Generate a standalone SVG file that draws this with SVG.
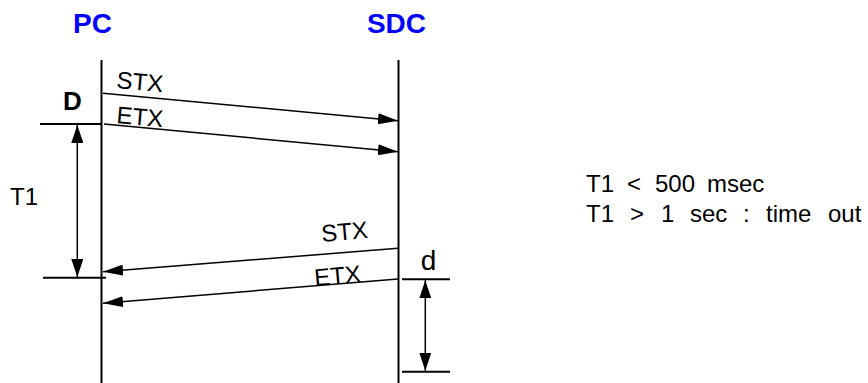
<svg xmlns="http://www.w3.org/2000/svg" width="868" height="383" viewBox="0 0 868 383">
<style>
.ln{stroke:#000;stroke-width:2;fill:none}
.th{stroke:#000;stroke-width:1.5;fill:none}
.hd{font-family:"Liberation Sans",Arial,sans-serif;font-weight:bold;font-size:28px;fill:#0000ff}
.lb{font-family:"Liberation Sans",Arial,sans-serif;font-size:24px;fill:#000}
.msg{font-family:"Liberation Sans",Arial,sans-serif;font-size:24px;fill:#000}
.txt{font-family:"Liberation Sans",Arial,sans-serif;font-size:24px;fill:#000}
</style>
<defs>
<marker id="ah" markerWidth="20" markerHeight="11" refX="20" refY="5.5" orient="auto" markerUnits="userSpaceOnUse">
<path d="M0,0 L20,5.5 L0,11 Z" fill="#000"/>
</marker>
<marker id="dh" markerWidth="18" markerHeight="12" refX="18" refY="6" orient="auto" markerUnits="userSpaceOnUse">
<path d="M0,0 L18,6 L0,12 Z" fill="#000"/>
</marker>
</defs>
<g id="pc">
<text class="hd" x="92.5" y="33" text-anchor="middle">PC</text>
<line class="ln" x1="101.5" y1="60" x2="101.5" y2="383"/>
</g>
<g id="sdc">
<text class="hd" x="396.5" y="33" text-anchor="middle">SDC</text>
<line class="ln" x1="398.5" y1="60" x2="398.5" y2="383"/>
</g>
<g id="connectors">
<line class="th" x1="103" y1="93.3" x2="398" y2="120.7" marker-end="url(#ah)"/>
<line class="th" x1="104" y1="124" x2="398" y2="151.7" marker-end="url(#ah)"/>
<line class="th" x1="398" y1="248.3" x2="103" y2="271.7" marker-end="url(#ah)"/>
<line class="th" x1="398" y1="279" x2="103" y2="303.3" marker-end="url(#ah)"/>
</g>
<g id="labels">
<text class="msg" transform="translate(116,88) rotate(5)">STX</text>
<text class="msg" transform="translate(116,123) rotate(5)">ETX</text>
<text class="msg" transform="translate(322,242) rotate(-5)">STX</text>
<text class="msg" transform="translate(315,286) rotate(-5)">ETX</text>
</g>
<g id="dim-T1">
<line class="ln" x1="40" y1="124" x2="101" y2="124"/>
<line class="ln" x1="43" y1="277.7" x2="106" y2="277.7"/>
<line class="th" x1="77.3" y1="200" x2="77.3" y2="125" marker-end="url(#dh)"/>
<line class="th" x1="77.3" y1="200" x2="77.3" y2="277" marker-end="url(#dh)"/>
<text class="lb" x="10" y="205">T1</text>
<text class="hd" x="72.5" y="110" text-anchor="middle" style="fill:#000;font-size:26px">D</text>
</g>
<g id="dim-d">
<line class="ln" x1="402" y1="279.3" x2="450" y2="279.3"/>
<line class="ln" x1="402" y1="371.7" x2="450" y2="371.7"/>
<line class="th" x1="425.3" y1="326" x2="425.3" y2="280.3" marker-end="url(#dh)"/>
<line class="th" x1="425.3" y1="326" x2="425.3" y2="370.7" marker-end="url(#dh)"/>
<text class="lb" x="428.5" y="270" text-anchor="middle" style="font-size:28px">d</text>
</g>
<g id="notes">
<text class="txt" y="192"><tspan x="586">T1</tspan> <tspan x="627">&lt;</tspan> <tspan x="655">500</tspan> <tspan x="707">msec</tspan></text>
<text class="txt" y="222"><tspan x="586">T1</tspan> <tspan x="630">&gt;</tspan> <tspan x="661">1</tspan> <tspan x="690">sec</tspan> <tspan x="743">:</tspan> <tspan x="766">time</tspan> <tspan x="828">out</tspan></text>
</g>
</svg>
